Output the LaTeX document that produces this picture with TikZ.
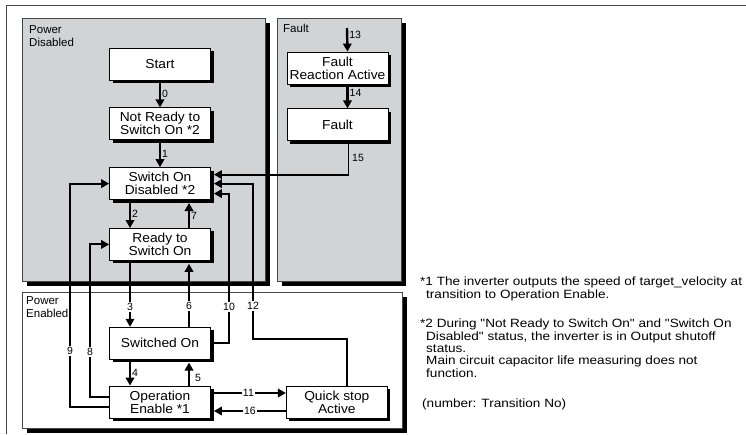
\documentclass[tikz,border=0pt]{standalone}
\usepackage{fontspec}
\setmainfont{Liberation Sans}
\newfontfamily\notefont{Liberation Sans}[FakeStretch=1.13]
\newfontfamily\statefont{Liberation Sans}[FakeStretch=1.06]
\usetikzlibrary{positioning,arrows.meta,shadows,calc}
\definecolor{panelgray}{RGB}{210, 211, 213}
\definecolor{framegray}{RGB}{70, 70, 70}

\begin{document}
\begin{tikzpicture}[
        x=1pt, y=-1pt,
        state/.style={draw=black, line width=0.8pt, fill=white, align=center,
            minimum width=101pt, minimum height=32pt, inner sep=1pt,
            font=\statefont\fontsize{13}{13}\selectfont,
            drop shadow={shadow xshift=3pt, shadow yshift=-3pt, fill=black, opacity=1}},
        panel/.style={draw=framegray, line width=0.6pt,
            drop shadow={shadow xshift=4.5pt, shadow yshift=-4.5pt, fill=black, opacity=1}},
        tag/.style={font=\fontsize{11.5}{13}\selectfont, align=left, anchor=north west, inner sep=0pt},
        num/.style={font=\fontsize{10.5}{12}\selectfont, inner sep=1pt},
        numon/.style={num, fill=white},
        arrow/.style={-{Triangle[length=8pt, width=8.5pt]}, line width=1.9pt},
        heavy/.style={arrow, line width=2.4pt},
        note/.style={font=\notefont\fontsize{12}{12.3}\selectfont, align=left, anchor=north west, inner sep=0pt}
    ]
    \useasboundingbox (0,0) rectangle (746,434);
    % frame and panels
    \draw[framegray, line width=0.8pt] (746,5) -- (6,5) -- (6,434);
    \path[panel, fill=panelgray] (22,18) rectangle (265,281);
    \path[panel, fill=panelgray] (277,18) rectangle (401,281);
    \path[panel, fill=white] (22,292) rectangle (402,428);
    \node[tag] (pdtag) at (29,25) {Power\\Disabled};
    \node[tag] (fttag) at (283,24) {Fault};
    \node[tag] (petag) at (26,296) {Power\\Enabled};

    % states
    \node[state] (start) at (160,64) {Start};
    \node[state, below=27pt of start] (nrdy) {Not Ready to\\Switch On *2};
    \node[state, below=27pt of nrdy] (sod) {Switch On\\Disabled *2};
    \node[state, below=28pt of sod] (rso) {Ready to\\Switch On};
    \node[state, below=66pt of rso] (swon) {Switched On};
    \node[state, below=26pt of swon] (oe) {Operation\\Enable *1};
    \node[state, right=75pt of oe] (qsa) {Quick stop\\Active};
    \node[state] (fra) at (337.5,68) {Fault\\Reaction Active};
    \node[state, below=24pt of fra] (fault) {Fault};

    % transitions
    \coordinate (c13) at (347,28);
    \coordinate (k9) at (70,300);
    \coordinate (k8) at (90,300);
    \coordinate (k10) at (229,300);
    \coordinate (k12) at (253,339);
    \draw[heavy] (start) -- node[num, right] (t0) {0} (nrdy);
    \draw[heavy] (nrdy) -- node[num, right] (t1) {1} (sod);
    \draw[heavy] ([xshift=-30pt]sod.south) -- node[num, right] (t2) {2} ([xshift=-30pt]rso.north);
    \draw[heavy] ([xshift=29pt]rso.north) -- node[num, right] (t7) {7} ([xshift=29pt, yshift=-3pt]sod.south);
    \draw[arrow] ([xshift=-30pt]rso.south) -- node[numon, pos=0.7] (t3) {3} ([xshift=-30pt]swon.north);
    \draw[arrow] ([xshift=29pt]swon.north) -- node[numon, pos=0.33] (t6) {6} ([xshift=29pt, yshift=-3pt]rso.south);
    \draw[heavy] ([xshift=-30pt]swon.south) -- node[num, right] (t4) {4} ([xshift=-30pt]oe.north);
    \draw[heavy] ([xshift=29pt]oe.north) -- node[num, right=4pt, pos=0.35] (t5) {5} ([xshift=29pt, yshift=-3pt]swon.south);
    \draw[arrow] ([yshift=9pt]oe.east) -- node[numon] (t11) {11} ([yshift=9pt]qsa.west);
    \draw[arrow] ([yshift=-9pt]qsa.west) -- node[numon] (t16) {16} ([xshift=3pt, yshift=-9pt]oe.east);
    \draw[arrow] ([yshift=-5pt]oe.west) -| (k9) |- (sod.west);
    \draw[arrow] ([yshift=5pt]oe.west) -| (k8) |- (rso.west);
    \draw[arrow] (swon.east) -| (k10) |- ([xshift=3pt, yshift=-10pt]sod.east);
    \draw[arrow] ([xshift=10pt]qsa.north) |- (k12) |- ([xshift=3pt]sod.east);
    \draw[arrow] ([xshift=11pt]fault.south) |- ([xshift=3pt, yshift=9pt]sod.east);
    \draw[heavy] (c13) -- node[num, right, pos=0.3] (t13) {13} ([xshift=10pt]fra.north);
    \draw[heavy] ([xshift=10pt]fra.south) -- node[num, right, pos=0.35] (t14) {14} ([xshift=10pt]fault.north);
    \node[numon] (t9) at (70,351) {9};
    \node[numon] (t8) at (90,352) {8};
    \node[numon] (t10) at (229,307) {10};
    \node[numon] (t12) at (253,306) {12};
    \node[num, anchor=west] (t15) at (351,158) {15};

    % notes
    \node[note] (fn1) at (420,277) {*1 The inverter outputs the speed of target\_velocity at\\\hspace*{6pt}transition to Operation Enable.};
    \node[note] (fn2) at (420,319) {*2 During "Not Ready to Switch On" and "Switch On\\\hspace*{6pt}Disabled" status, the inverter is in Output shutoff\\\hspace*{6pt}status.\\\hspace*{6pt}Main circuit capacitor life measuring does not\\\hspace*{6pt}function.};
    \node[note] (fn3) at (422,399) {(number: Transition No)};
\end{tikzpicture}
\end{document}
